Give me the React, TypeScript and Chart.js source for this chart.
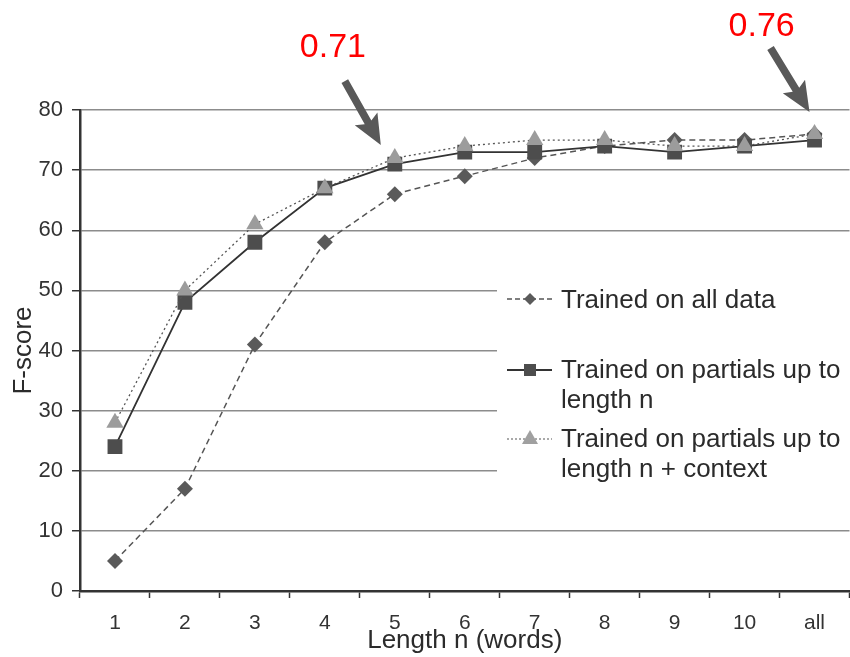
import React, { useEffect, useRef } from 'react';
import { Chart, registerables } from 'chart.js';

Chart.register(...registerables);

// ---- data ----
const categories = ['1', '2', '3', '4', '5', '6', '7', '8', '9', '10', 'all'];
const trainedAll = [5, 17, 41, 58, 66, 69, 72, 74, 75, 75, 76];
const trainedPartials = [24, 48, 58, 67, 71, 73, 73, 74, 73, 74, 75];
const trainedPartialsContext = [28, 50, 61, 67, 72, 74, 75, 75, 74, 74, 76];
const seriesNames = [
  'Trained on all data',
  'Trained on partials up to length n',
  'Trained on partials up to length n + context',
];
const legendLines = [
  ['Trained on all data'],
  ['Trained on partials up to', 'length n'],
  ['Trained on partials up to', 'length n + context'],
];
const annotationLabels = ['0.71', '0.76'];
const annotationIndex = [4, 10];
const yMin = 0;
const yMax = 80;
const yStep = 10;
const xTitle = 'Length n (words)';
const yTitle = 'F-score';

const FONT = '"Liberation Sans", Arial, Helvetica, sans-serif';

function drawArrow(ctx: CanvasRenderingContext2D, x0: number, y0: number, x1: number, y1: number) {
  const ang = Math.atan2(y1 - y0, x1 - x0);
  const len = Math.hypot(x1 - x0, y1 - y0);
  const headLen = 30;
  const headW = 13;
  const shaftW = 3.8;
  ctx.save();
  ctx.translate(x0, y0);
  ctx.rotate(ang);
  ctx.beginPath();
  ctx.moveTo(0, -shaftW);
  ctx.lineTo(len - headLen + 4, -shaftW);
  ctx.lineTo(len - headLen, -headW);
  ctx.lineTo(len, 0);
  ctx.lineTo(len - headLen, headW);
  ctx.lineTo(len - headLen + 4, shaftW);
  ctx.lineTo(0, shaftW);
  ctx.closePath();
  ctx.fill();
  ctx.restore();
}

const overlayPlugin = {
  id: 'overlay',
  afterDraw(chart: any) {
    const { ctx, chartArea, scales } = chart;
    const xs = scales.x;
    const ys = scales.y;
    ctx.save();

    // legend box (covers grid lines)
    const boxLeft = 497;
    ctx.fillStyle = '#ffffff';
    ctx.fillRect(boxLeft, 245, chartArea.right - boxLeft + 20, 270);

    const sampleX0 = 507;
    const sampleX1 = 552;
    const markX = 530;
    const textX = 561;
    const rows = [
      { lineY: 299, base: [308] },
      { lineY: 370, base: [378, 408] },
      { lineY: 439, base: [447, 477] },
    ];

    // sample 1: dashed + diamond
    ctx.strokeStyle = '#555';
    ctx.lineWidth = 1.5;
    ctx.setLineDash([5, 3]);
    ctx.beginPath();
    ctx.moveTo(sampleX0, rows[0].lineY);
    ctx.lineTo(sampleX1, rows[0].lineY);
    ctx.stroke();
    ctx.setLineDash([]);
    ctx.fillStyle = '#5a5a5a';
    ctx.beginPath();
    ctx.moveTo(markX, rows[0].lineY - 6);
    ctx.lineTo(markX + 6, rows[0].lineY);
    ctx.lineTo(markX, rows[0].lineY + 6);
    ctx.lineTo(markX - 6, rows[0].lineY);
    ctx.closePath();
    ctx.fill();

    // sample 2: solid + square
    ctx.strokeStyle = '#333';
    ctx.lineWidth = 1.8;
    ctx.beginPath();
    ctx.moveTo(sampleX0, rows[1].lineY);
    ctx.lineTo(sampleX1, rows[1].lineY);
    ctx.stroke();
    ctx.fillStyle = '#4d4d4d';
    ctx.fillRect(markX - 6, rows[1].lineY - 6, 12, 12);

    // sample 3: dotted + triangle
    ctx.strokeStyle = '#555';
    ctx.lineWidth = 1.2;
    ctx.setLineDash([2, 2]);
    ctx.beginPath();
    ctx.moveTo(sampleX0, rows[2].lineY);
    ctx.lineTo(sampleX1, rows[2].lineY);
    ctx.stroke();
    ctx.setLineDash([]);
    ctx.fillStyle = '#a0a0a0';
    ctx.beginPath();
    ctx.moveTo(markX, rows[2].lineY - 9);
    ctx.lineTo(markX + 8, rows[2].lineY + 5);
    ctx.lineTo(markX - 8, rows[2].lineY + 5);
    ctx.closePath();
    ctx.fill();

    ctx.fillStyle = '#2b2b2b';
    ctx.font = `26px ${FONT}`;
    ctx.textAlign = 'left';
    ctx.textBaseline = 'alphabetic';
    legendLines.forEach((lines, i) => {
      lines.forEach((t, j) => {
        ctx.fillText(t, textX, rows[i].base[j]);
      });
    });

    // annotations: arrow pointing at the labelled point, red value above it
    const tipOffsets = [
      { dx: -14, dy: -19, tx: -36, ty: -64, lx: -81, ly: -88 },
      { dx: -5, dy: -22, tx: -39, ty: -64, lx: -81, ly: -76 },
    ];
    annotationLabels.forEach((label, k) => {
      const idx = annotationIndex[k];
      const px = xs.getPixelForValue(idx);
      const py = ys.getPixelForValue(Math.max(trainedAll[idx], trainedPartials[idx]));
      const o = tipOffsets[k];
      const tipX = px + o.dx;
      const tipY = py + o.dy;
      ctx.fillStyle = '#595959';
      drawArrow(ctx, tipX + o.tx, tipY + o.ty, tipX, tipY);
      ctx.fillStyle = '#ff0000';
      ctx.font = `34px ${FONT}`;
      ctx.textAlign = 'left';
      ctx.textBaseline = 'alphabetic';
      ctx.fillText(label, tipX + o.lx, tipY + o.ly);
    });

    ctx.restore();
  },
};

export default function App() {
  const ref = useRef<HTMLCanvasElement | null>(null);

  useEffect(() => {
    if (!ref.current) return;
    const chart = new Chart(ref.current, {
      type: 'line',
      data: {
        labels: categories,
        datasets: [
          {
            label: seriesNames[0],
            data: trainedAll,
            order: 2,
            borderColor: '#555',
            borderWidth: 1.5,
            borderDash: [6, 4],
            pointStyle: 'rectRot',
            pointRadius: 8,
            pointBackgroundColor: '#5a5a5a',
            pointBorderColor: '#5a5a5a',
            pointBorderWidth: 0,
            tension: 0,
          },
          {
            label: seriesNames[1],
            data: trainedPartials,
            order: 1,
            borderColor: '#333',
            borderWidth: 1.8,
            pointStyle: 'rect',
            pointRadius: 10.5,
            pointBackgroundColor: '#4d4d4d',
            pointBorderColor: '#4d4d4d',
            pointBorderWidth: 0,
            tension: 0,
          },
          {
            label: seriesNames[2],
            data: trainedPartialsContext,
            order: 0,
            borderColor: '#555',
            borderWidth: 1.3,
            borderDash: [2, 3],
            pointStyle: 'triangle',
            pointRadius: 10,
            pointBackgroundColor: '#9c9c9c',
            pointBorderColor: '#9c9c9c',
            pointBorderWidth: 0,
            tension: 0,
          },
        ],
      },
      options: {
        responsive: false,
        animation: false,
        devicePixelRatio: 1,
        layout: { padding: { top: 110, right: 4, left: 0, bottom: 0 } },
        plugins: {
          legend: { display: false },
          tooltip: { enabled: false },
        },
        scales: {
          x: {
            type: 'category',
            offset: true,
            grid: {
              display: true,
              offset: true,
              drawOnChartArea: false,
              drawTicks: true,
              tickLength: 7,
              tickColor: '#333',
              tickWidth: 1.5,
            },
            border: { display: true, color: '#333', width: 2.5 },
            ticks: {
              color: '#333',
              font: { family: FONT, size: 21 },
              padding: 13,
              maxRotation: 0,
              autoSkip: false,
            },
            title: {
              display: true,
              text: xTitle,
              color: '#2b2b2b',
              font: { family: FONT, size: 26, lineHeight: 1 },
              padding: { top: 0, bottom: 3 },
            },
            afterFit(scale: any) {
              scale.height = 66;
            },
          },
          y: {
            min: yMin,
            max: yMax,
            grid: {
              color: '#8c8c8c',
              lineWidth: 1.5,
              drawTicks: true,
              tickLength: 8,
              tickColor: '#333',
              tickWidth: 1.5,
            },
            border: { display: true, color: '#333', width: 2.5 },
            ticks: {
              stepSize: yStep,
              color: '#333',
              font: { family: FONT, size: 22 },
              padding: 9,
            },
            title: {
              display: true,
              text: yTitle,
              color: '#2b2b2b',
              font: { family: FONT, size: 26, lineHeight: 1.2 },
              padding: { top: 8, bottom: 0 },
            },
            afterFit(scale: any) {
              scale.width = 80;
            },
          },
        },
      },
      plugins: [overlayPlugin],
    });
    return () => chart.destroy();
  }, []);

  return (
    <div
      style={{
        position: 'fixed',
        left: 0,
        top: 0,
        width: 850,
        height: 657,
        overflow: 'hidden',
        background: '#fff',
      }}
    >
      <canvas ref={ref} width={860} height={657} style={{ display: 'block' }} />
    </div>
  );
}
